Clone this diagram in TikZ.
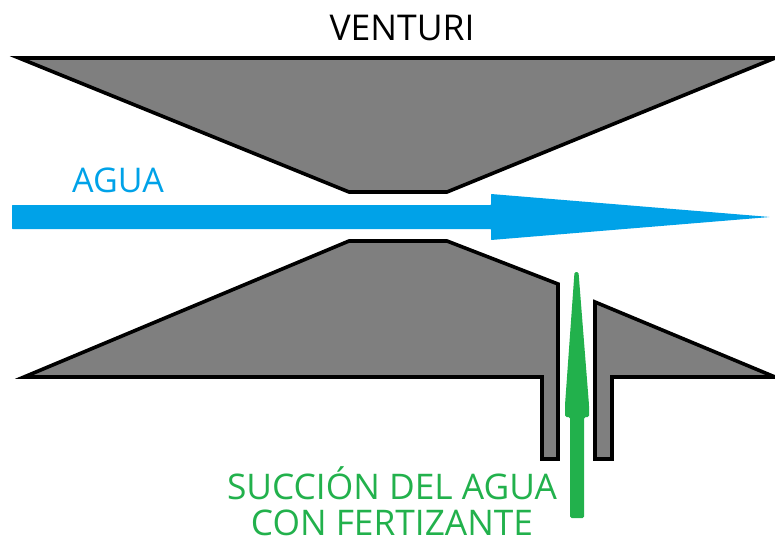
\documentclass[tikz,border=0pt]{standalone}
\usepackage{fontspec}
\setmainfont{Open Sans}
\definecolor{aguablue}{HTML}{00A2E8}
\definecolor{succgreen}{HTML}{22B14C}
\definecolor{bodygray}{HTML}{7F7F7F}
\tikzset{
  venturibody/.style={fill=bodygray,draw=black,line width=3.6pt,line join=miter,miter limit=10},
  label text/.style={font=\fontsize{#1}{#1}\selectfont,inner sep=0pt,anchor=base},
}
\begin{document}
\begin{tikzpicture}[x=1pt,y=-1pt]
\useasboundingbox (0,0) rectangle (775,540);
% top body
\draw[venturibody] (19,58) -- (775,58) -- (447,192) -- (349,192) -- cycle;
% lower body
\draw[venturibody] (349,241) -- (447,241) -- (558,284) -- (558,459) -- (542,459) -- (542,377)
  -- (24,377) -- cycle;
\draw[venturibody] (595,302) -- (775,377) -- (612,377) -- (612,459) -- (595,459) -- cycle;
% water arrow
\fill[aguablue,rounded corners=0.6pt] (12,205) -- (491,205) -- (491,194) -- (770,217) -- (491,240) -- (491,229) -- (12,229) -- cycle;
% suction arrow
\fill[succgreen,rounded corners=1.5pt] (570,518) -- (570,417) -- (565,417) -- (565,405) -- (574.5,272) -- (578.5,272) -- (589,405) -- (589,417) -- (584,417) -- (584,518) -- cycle;
% labels
\node[label text=35.5] (title) at (402,41) {VENTURI};
\node[label text=34] (agua) [text=aguablue] at (118,192) {AGUA};
\node[label text=35.3] (succ1) [text=succgreen] at (392,499) {SUCCIÓN DEL AGUA};
\node[label text=35.3] (succ2) [text=succgreen] at (392,535) {CON FERTIZANTE};
\end{tikzpicture}
\end{document}
